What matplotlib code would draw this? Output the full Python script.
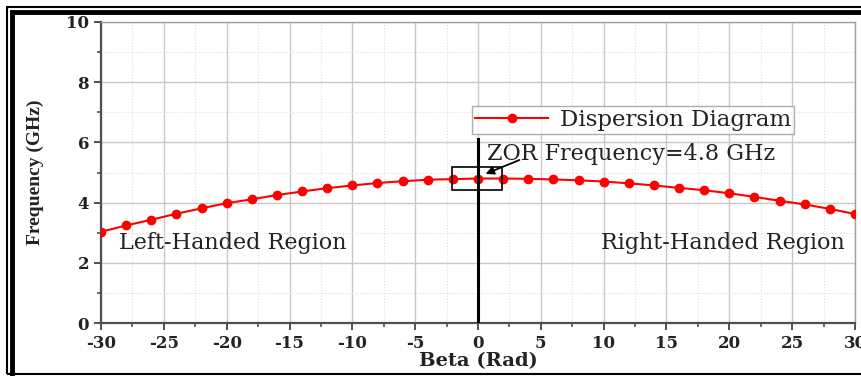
import matplotlib
matplotlib.use("Agg")
import matplotlib.pyplot as plt
from matplotlib.patches import Rectangle
from matplotlib.ticker import MultipleLocator

plt.rcParams["axes.unicode_minus"] = False

beta = [-30, -28, -26, -24, -22, -20, -18, -16, -14, -12, -10, -8, -6, -4, -2,
        0, 2, 4, 6, 8, 10, 12, 14, 16, 18, 20, 22, 24, 26, 28, 30]
freq = [3.03, 3.24, 3.43, 3.63, 3.81, 3.98, 4.11, 4.25, 4.37, 4.48, 4.57, 4.65,
        4.71, 4.76, 4.78, 4.80, 4.80, 4.79, 4.77, 4.74, 4.70, 4.64, 4.57, 4.49,
        4.41, 4.31, 4.19, 4.06, 3.94, 3.79, 3.62]
xticks = [-30, -25, -20, -15, -10, -5, 0, 5, 10, 15, 20, 25, 30]
yticks = [0, 2, 4, 6, 8, 10]
zor_beta = 0
zor_freq = 4.8

W, H = 862, 376
fig = plt.figure(figsize=(W / 100, H / 100), dpi=100)
ax = fig.add_axes([101 / W, 1 - 323 / H, 754 / W, 301 / H])

serif = ["DejaVu Serif"]
txtc = "#222222"

ax.plot(beta, freq, color="red", lw=1.5, marker="o", ms=6, label="Dispersion Diagram", zorder=3)
ax.set_xlim(-30, 30)
ax.set_ylim(0, 10)
ax.set_xticks(xticks)
ax.set_yticks(yticks)
ax.xaxis.set_minor_locator(MultipleLocator(2.5))
ax.yaxis.set_minor_locator(MultipleLocator(1))
ax.grid(which="major", color="#c8c8c8", lw=1.0)
ax.grid(which="minor", color="#dedede", lw=0.8, ls=":")
ax.set_axisbelow(True)

for s in ["left", "bottom"]:
    ax.spines[s].set_color("#505050")
    ax.spines[s].set_linewidth(1.6)
for s in ["top", "right"]:
    ax.spines[s].set_color("#a0a0a0")
    ax.spines[s].set_linewidth(1.0)

ax.tick_params(which="major", direction="out", length=5, width=1.4, color="#505050")
ax.tick_params(which="minor", direction="out", length=3, width=1.2, color="#505050")
for lab in ax.get_xticklabels() + ax.get_yticklabels():
    lab.set_fontfamily(serif)
    lab.set_fontweight("bold")
    lab.set_fontsize(12)
    lab.set_color(txtc)

ax.set_xlabel("Beta (Rad)", fontfamily=serif, fontweight="bold", fontsize=14, labelpad=0, color=txtc)
ax.set_ylabel("Frequency (GHz)", fontfamily=["Liberation Serif"], fontweight="bold", fontsize=14,
              labelpad=16, color=txtc)

# vertical marker line at beta = 0
ax.plot([zor_beta, zor_beta], [0, 6.1], color="black", lw=2.2, zorder=4)
ax.add_patch(Rectangle((-2.1, 4.42), 4.0, 0.76, fill=False, ec="black", lw=1.2, zorder=5))
ax.annotate("", xy=(0.4, 4.92), xytext=(3.5, 5.45),
            arrowprops=dict(arrowstyle="-|>", color="black", lw=1.3, mutation_scale=12), zorder=6)
ax.text(0.7, 5.62, "ZOR Frequency=4.8 GHz", fontfamily=serif, fontsize=16, va="center", ha="left",
        color=txtc)
ax.text(-28.6, 2.65, "Left-Handed Region", fontfamily=serif, fontsize=16, va="center", ha="left",
        color=txtc)
ax.text(29.2, 2.65, "Right-Handed Region", fontfamily=serif, fontsize=16, va="center", ha="right",
        color=txtc)

leg = ax.legend(loc="center", bbox_to_anchor=((633 - 101) / 754, (323 - 120) / 301),
                prop={"family": serif, "size": 16.5}, frameon=True, fancybox=False,
                borderpad=0.15, handlelength=3.2, handletextpad=0.5, labelcolor=txtc)
leg.get_frame().set_edgecolor("#999999")
leg.get_frame().set_linewidth(1.0)

# outer double frame
def frect(x0, y0, x1, y1, lw):
    fig.add_artist(Rectangle((x0 / W, 1 - y1 / H), (x1 - x0) / W, (y1 - y0) / H,
                             transform=fig.transFigure, fill=False, ec="black", lw=lw))
frect(7, 7, 890, 374, 1.5)
frect(12, 12, 890, 400, 3.5)

fig.savefig("out.png", dpi=100)
